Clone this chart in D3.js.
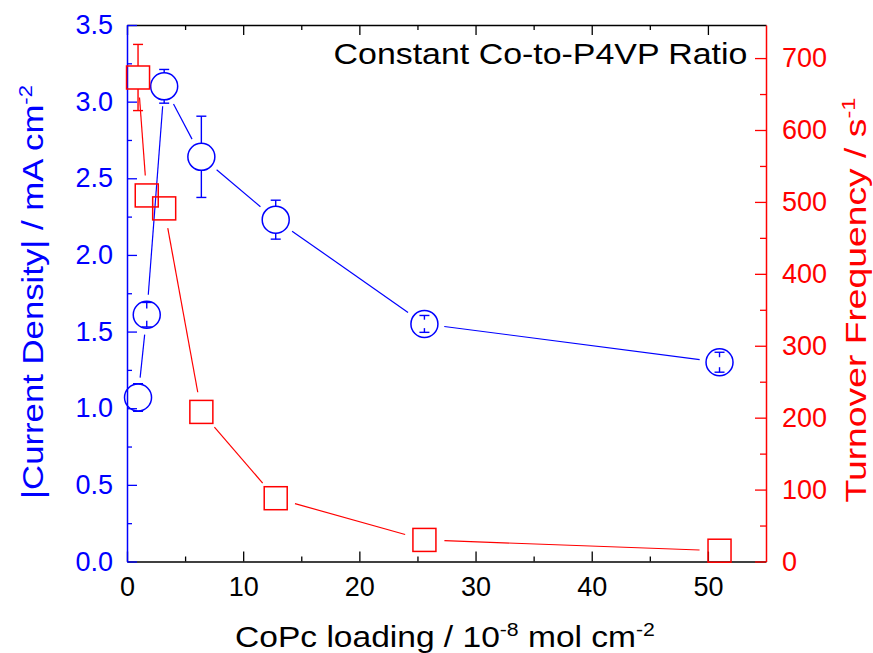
<!DOCTYPE html>
<html>
<head>
<meta charset="utf-8">
<script src="https://cdn.jsdelivr.net/npm/d3@7"></script>
<style>
  html, body { margin: 0; padding: 0; background: #fff; }
  svg { display: block; font-family: "Liberation Sans", Arial, sans-serif; }
</style>
</head>
<body>
<svg id="chart" width="873" height="653"></svg>
<script>
// CoPc loading (10^-8 mol cm^-2)
const loading = [0.95, 1.7, 3.2, 6.4, 12.8, 25.6, 51.0];
// |Current density| (mA cm^-2) and its error
const currentDensity = [1.07, 1.61, 3.10, 2.64, 2.23, 1.55, 1.30];
const currentErr = [0.09, 0.08, 0.11, 0.265, 0.127, 0.055, 0.065];
// Turnover frequency (s^-1) and its error
const turnover = [673, 509, 491, 208, 88, 30, 15];
const turnoverErr = [46, 0, 0, 0, 0, 0, 0];

// Tick values
const xMajor = [0, 10, 20, 30, 40, 50];
const xMinor = [5, 15, 25, 35, 45];
const leftMajor = [0, 0.5, 1.0, 1.5, 2.0, 2.5, 3.0, 3.5];
const leftMinor = [0.25, 0.75, 1.25, 1.75, 2.25, 2.75, 3.25];
const rightMajor = [0, 100, 200, 300, 400, 500, 600, 700];
const rightMinor = [50, 150, 250, 350, 450, 550, 650];

const BLUE = "#0000ff";
const RED = "#ff0000";

const L = 127, R = 766, T = 25, B = 561.5;

const svg = d3.select("#chart");

const x = d3.scaleLinear().domain([0, 55]).range([L, R]);
const yL = d3.scaleLinear().domain([0, 3.5]).range([B, T]);
const yR = d3.scaleLinear().domain([0, 746]).range([B, T]);

function styleAxis(g, color, fontSize) {
  g.selectAll("path.domain").attr("stroke", color).attr("stroke-width", 1.5);
  g.selectAll(".tick line").attr("stroke", color).attr("stroke-width", 1.3);
  g.selectAll(".tick text").attr("fill", color)
    .style("font-size", fontSize + "px")
    .style("font-family", "\"Liberation Sans\", Arial, sans-serif");
}

// Bottom axis (ticks point inward)
const gB = svg.append("g").attr("transform", `translate(0,${B})`);
gB.call(d3.axisBottom(x).tickValues(xMajor).tickFormat(d3.format("d"))
  .tickSizeInner(-10).tickSizeOuter(0).tickPadding(15));
styleAxis(gB, "#000", 27);
const gBm = svg.append("g").attr("transform", `translate(0,${B})`);
gBm.call(d3.axisBottom(x).tickValues(xMinor).tickFormat("").tickSizeInner(-5).tickSizeOuter(0));
gBm.select("path.domain").remove();
styleAxis(gBm, "#000", 27);

// Top axis
const gT = svg.append("g").attr("transform", `translate(0,${T})`);
gT.call(d3.axisTop(x).tickValues(xMajor).tickFormat("").tickSizeInner(-10).tickSizeOuter(0));
styleAxis(gT, "#000", 27);
const gTm = svg.append("g").attr("transform", `translate(0,${T})`);
gTm.call(d3.axisTop(x).tickValues(xMinor).tickFormat("").tickSizeInner(-5).tickSizeOuter(0));
gTm.select("path.domain").remove();
styleAxis(gTm, "#000", 27);

// Left axis (current density, blue)
const gL = svg.append("g").attr("transform", `translate(${L},0)`);
gL.call(d3.axisLeft(yL).tickValues(leftMajor).tickFormat(d3.format(".1f"))
  .tickSizeInner(-10).tickSizeOuter(0).tickPadding(14));
styleAxis(gL, BLUE, 27);
const gLm = svg.append("g").attr("transform", `translate(${L},0)`);
gLm.call(d3.axisLeft(yL).tickValues(leftMinor).tickFormat("").tickSizeInner(-5).tickSizeOuter(0));
gLm.select("path.domain").remove();
styleAxis(gLm, BLUE, 27);

// Right axis (turnover frequency, red)
const gR = svg.append("g").attr("transform", `translate(${R},0)`);
gR.call(d3.axisRight(yR).tickValues(rightMajor).tickFormat(d3.format("d"))
  .tickSizeInner(-11).tickSizeOuter(0).tickPadding(16));
styleAxis(gR, RED, 27);
const gRm = svg.append("g").attr("transform", `translate(${R},0)`);
gRm.call(d3.axisRight(yR).tickValues(rightMinor).tickFormat("").tickSizeInner(-6).tickSizeOuter(0));
gRm.select("path.domain").remove();
styleAxis(gRm, RED, 27);

// Connecting lines with a gap around each marker
function gappedSegments(pts, gap) {
  const segs = [];
  for (let i = 0; i < pts.length - 1; i++) {
    const [x1, y1] = pts[i], [x2, y2] = pts[i + 1];
    const dx = x2 - x1, dy = y2 - y1, d = Math.hypot(dx, dy);
    if (d <= 2 * gap) continue;
    const ux = dx / d, uy = dy / d;
    segs.push([x1 + ux * gap, y1 + uy * gap, x2 - ux * gap, y2 - uy * gap]);
  }
  return segs;
}

function drawSeries(values, errs, yScale, color, shape) {
  const pts = loading.map((v, i) => [x(v), yScale(values[i])]);
  const g = svg.append("g");
  g.selectAll("line.conn").data(gappedSegments(pts, 20)).join("line")
    .attr("class", "conn")
    .attr("x1", d => d[0]).attr("y1", d => d[1])
    .attr("x2", d => d[2]).attr("y2", d => d[3])
    .attr("stroke", color).attr("stroke-width", 1.2);

  const half = shape === "circle" ? 13.5 : 11.5;
  // error bars
  values.forEach((v, i) => {
    if (!errs[i]) return;
    const cx = x(loading[i]), cy = yScale(v);
    const top = yScale(v + errs[i]), bot = yScale(v - errs[i]);
    const ePx = cy - top;
    const inner = ePx > half ? half : ePx * 0.5;
    g.append("line").attr("x1", cx).attr("x2", cx).attr("y1", top).attr("y2", cy - inner)
      .attr("stroke", color).attr("stroke-width", 1.4);
    g.append("line").attr("x1", cx).attr("x2", cx).attr("y1", bot).attr("y2", cy + inner)
      .attr("stroke", color).attr("stroke-width", 1.4);
    [top, bot].forEach(yy => {
      g.append("line").attr("x1", cx - 5).attr("x2", cx + 5).attr("y1", yy).attr("y2", yy)
        .attr("stroke", color).attr("stroke-width", 1.4);
    });
  });

  if (shape === "circle") {
    g.selectAll("circle.m").data(pts).join("circle").attr("class", "m")
      .attr("cx", d => d[0]).attr("cy", d => d[1]).attr("r", half)
      .attr("fill", "none").attr("stroke", color).attr("stroke-width", 1.5);
  } else {
    g.selectAll("rect.m").data(pts).join("rect").attr("class", "m")
      .attr("x", d => d[0] - half).attr("y", d => d[1] - half)
      .attr("width", 2 * half).attr("height", 2 * half)
      .attr("fill", "none").attr("stroke", color).attr("stroke-width", 1.5);
  }
}

drawSeries(currentDensity, currentErr, yL, BLUE, "circle");
drawSeries(turnover, turnoverErr, yR, RED, "square");

// Wide text: stretch a label along its reading direction so it spans `len` px,
// centred on (cx, cy), optionally rotated. Parts flagged `true` are superscripts.
function wideText(cx, cy, angle, len, color, parts) {
  const t = svg.append("text").attr("text-anchor", "middle")
    .style("font-size", "30px").attr("fill", color);
  let raised = false;
  parts.forEach(([s, sup]) => {
    const span = t.append("tspan").text(s);
    if (sup) {
      span.style("font-size", "19px").attr("dy", raised ? 0 : -11);
    } else {
      span.attr("dy", raised ? 11 : 0);
    }
    raised = sup;
  });
  const w = t.node().getBBox().width;
  t.attr("transform", `translate(${cx},${cy}) rotate(${angle}) scale(${len / w},1)`);
  return t;
}

// Annotation
wideText(540.5, 64, 0, 414, "#000", [["Constant Co-to-P4VP Ratio", false]]);

// Axis titles
wideText(445, 647, 0, 420, "#000",
  [["CoPc loading / 10", false], ["-8", true], [" mol cm", false], ["-2", true]]);
wideText(43, 292, -90, 414, BLUE,
  [["|Current Density| / mA cm", false], ["-2", true]]);
wideText(866, 300, -90, 405, RED,
  [["Turnover Frequency / s", false], ["-1", true]]);
</script>
</body>
</html>
